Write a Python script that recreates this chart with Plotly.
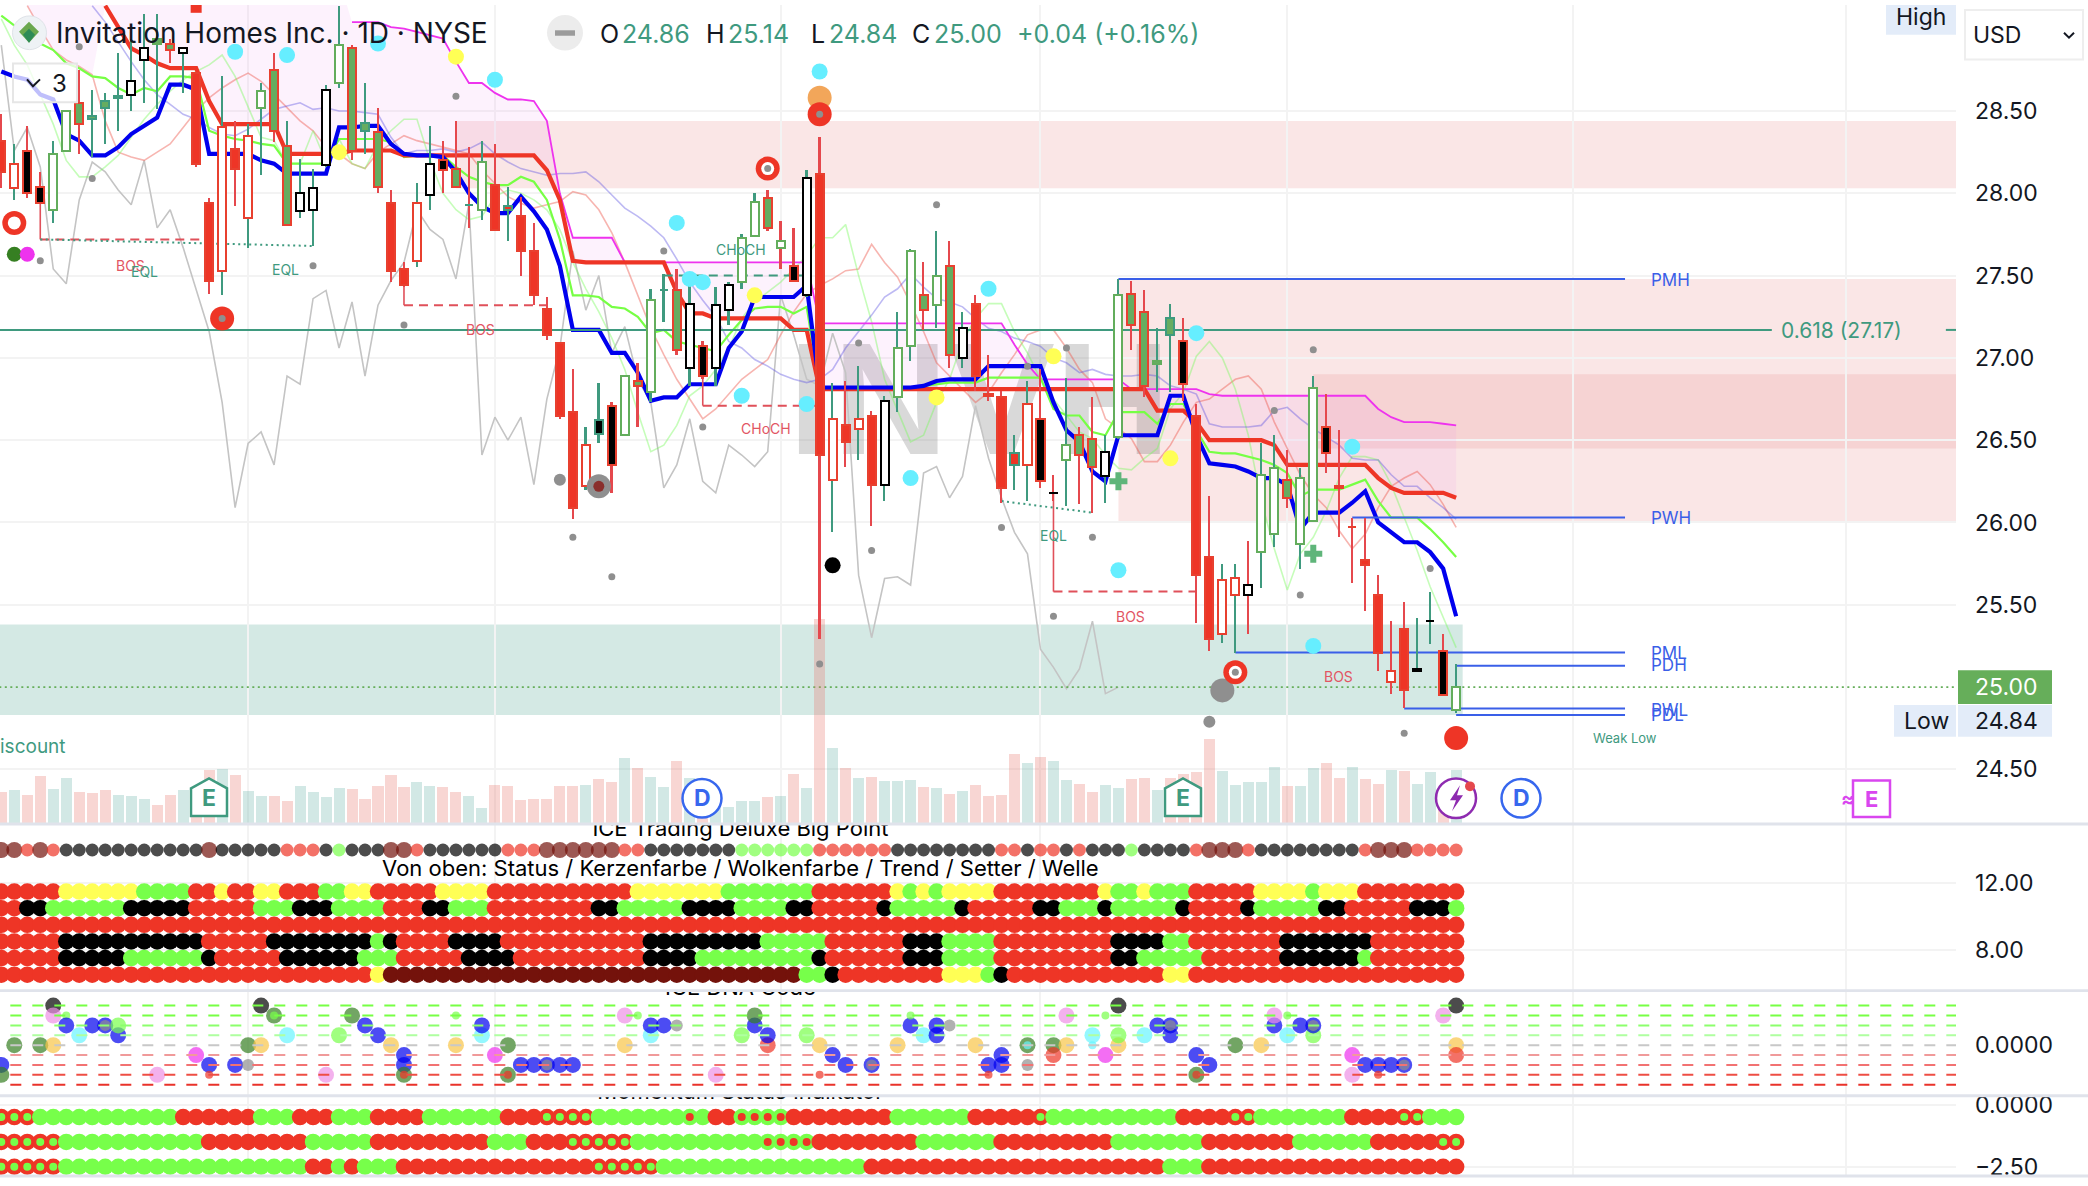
import plotly.graph_objects as go

W, H = 2088, 1186
PLOT_R = 1956
FONT = "Inter"
INK = "#131722"
TEAL = "#3f9a7f"
REDC = "#ee3526"
BLUE_L = "#3a5fe8"

# ---------- candles ----------
highs = [28.48,28.30,28.41,28.13,28.32,28.50,28.75,28.63,28.61,28.85,
 28.94,29.09,29.09,28.94,28.88,28.73,27.97,28.71,28.44,28.42,
 28.67,28.85,28.44,28.21,28.15,28.66,29.14,28.90,28.67,28.52,
 28.02,27.58,28.06,28.41,28.32,28.44,28.28,28.32,28.30,28.04,
 27.98,27.82,27.37,27.09,26.93,26.58,26.85,26.73,26.89,26.97,
 27.42,27.51,27.54,27.48,27.10,27.43,27.46,27.75,28.00,28.02,
 27.83,27.79,28.14,28.34,26.85,26.86,26.95,26.68,26.77,27.28,
 27.66,27.58,27.77,27.71,27.28,27.38,27.02,26.80,26.53,26.86,
 26.93,26.29,26.88,26.58,26.76,26.53,27.48,27.47,27.41,27.18,
 27.33,27.24,26.72,26.16,25.75,25.75,25.89,26.48,26.53,26.44,
 26.33,26.89,26.78,26.56,26.03,26.03,25.68,25.40,25.52,25.42,
 25.58,25.32,25.14]
body_tops = [28.32,28.18,28.26,28.04,28.24,28.50,28.55,28.47,28.56,28.59,
 28.68,28.88,28.94,28.91,28.88,28.73,27.94,28.40,28.27,28.35,
 28.62,28.75,28.29,28.00,28.03,28.63,28.90,28.88,28.43,28.37,
 27.94,27.54,27.94,28.18,28.20,28.15,27.93,28.19,28.05,27.92,
 27.86,27.65,27.30,27.09,26.67,26.47,26.62,26.71,26.89,26.86,
 27.35,27.41,27.41,27.33,27.07,27.32,27.44,27.73,27.95,27.97,
 27.71,27.56,28.09,28.12,26.63,26.59,26.63,26.65,26.74,27.06,
 27.65,27.38,27.50,27.56,27.18,27.33,26.78,26.76,26.42,26.72,
 26.63,26.18,26.47,26.53,26.51,26.43,27.38,27.39,27.28,26.98,
 27.24,27.10,26.65,25.79,25.65,25.66,25.62,26.29,26.33,26.26,
 26.27,26.82,26.58,26.22,25.97,25.77,25.56,25.10,25.35,25.11,
 25.40,25.22,25.00]
body_bots = [28.13,28.03,28.00,27.94,27.90,28.26,28.42,28.45,28.52,28.58,
 28.60,28.81,28.91,28.87,28.85,28.18,27.47,27.53,28.15,27.85,
 28.52,28.38,27.81,27.89,27.90,28.17,28.67,28.26,28.38,28.04,
 27.53,27.44,27.59,27.99,28.14,28.04,27.93,27.90,27.78,27.90,
 27.65,27.38,27.14,26.65,26.09,26.22,26.54,26.35,26.53,26.83,
 26.79,27.41,27.05,26.94,26.89,26.94,27.29,27.46,27.74,27.79,
 27.67,27.47,27.38,26.41,26.26,26.49,26.57,26.23,26.23,26.76,
 27.07,27.29,27.32,27.02,27.00,26.89,26.77,26.21,26.35,26.35,
 26.25,26.18,26.38,26.41,26.34,26.28,26.52,27.20,26.83,26.96,
 27.14,26.84,25.68,25.29,25.32,25.56,25.56,25.82,25.93,26.15,
 25.87,26.01,26.42,26.21,25.97,25.74,25.21,25.03,24.98,25.10,
 25.40,24.95,24.86]
lows = [28.03,27.96,27.97,27.94,27.82,28.26,28.24,28.22,28.30,28.38,
 28.50,28.55,28.51,28.79,28.61,28.16,27.39,27.38,27.92,27.67,
 28.11,28.31,27.81,27.85,27.68,28.16,28.64,28.20,28.24,28.00,
 27.46,27.43,27.55,27.90,28.00,28.04,27.79,27.84,27.78,27.71,
 27.50,27.32,27.11,26.63,26.02,26.20,26.48,26.18,26.53,26.58,
 26.73,27.22,27.02,26.83,26.87,26.83,27.20,27.42,27.74,27.77,
 27.54,27.47,27.37,25.29,25.94,26.34,26.38,25.98,26.13,26.67,
 26.98,27.17,27.18,26.94,26.94,26.80,26.74,26.12,26.20,26.13,
 26.21,26.13,26.10,26.11,26.06,26.12,26.51,27.05,26.76,26.79,
 26.79,26.74,25.39,25.22,25.27,25.21,25.32,25.60,25.85,26.09,
 25.72,26.01,26.30,25.91,25.63,25.46,25.10,24.96,24.87,25.10,
 25.26,24.95,24.84]
body_kind = ("RWKKWWGGGG" "WWGGWRRWRW" "WGGWWWWGGG" "RRWWKGGWRR" "RRRRRWKKWG"
             "WGGWKWWWWG" "WKWRWRWRWW" "WGWGWRRRRW" "KKWGGWWGGG" "GKRRWWWWWG"
             "WWKRRRRWRK" "KKW")
edge_kind = ("rrrrggrttt" "kkgrkrrrrr" "grrkkkgrtr" "rrrkrrtgrt" "rrrrrrtrgr"
             "gtrkrkkggr" "grkrrrrrkg" "grgrkrrrtr" "rkgrrkgrrg" "trrrrrkggr"
             "ggrrrrrrrk" "krg")
wick_kind = ("rtrrttrttt" "tttrtrrtrt" "trtttttrtr" "rrttrrrtrt" "rrrrrttrtr"
             "ttrtrttttr" "rrtrtrtrtt" "trtrtrrrtt" "rrtrrttrrt" "trrrttrttr"
             "ttrrrrrrrt" "trt")
volumes = [32,34,29,48,35,46,32,31,34,29, 28,25,19,29,34,36,54,56,49,33,
 28,28,23,38,32,27,36,35,25,38, 49,37,42,38,37,32,28,16,39,38,
 24,25,25,38,38,39,45,42,67,57, 47,37,64,46,33,20,17,23,23,27,
 28,50,36,207,77,57,46,47,43,43, 44,37,36,30,33,39,28,29,71,62,
 68,64,44,40,32,39,36,45,46,34, 46,50,52,86,53,39,42,42,58,38,
 38,57,62,46,58,45,40,55,53,40, 52,26,55]
volume_kind = ("RTRRTTRRRT" "TTRRTRRTRT" "TRRTTTTRRR" "RRTTRRTTRR" "RRRRRTRRTR"
               "TTRTRTTTTR" "TRTRTRTRTT" "TRTRTRRRRT" "RTTRRTTRRT" "RRRRTTTTTR"
               "TTRRTRRTRT" "TRT")

# ---------- indicator lines ----------
blue_line = [28.74,28.71,28.69,28.60,28.57,28.36,28.32,28.23,28.23,28.28,
 28.36,28.41,28.46,28.66,28.66,28.63,28.24,28.24,28.24,28.24,
 28.20,28.18,28.12,28.12,28.12,28.12,28.40,28.40,28.41,28.41,
 28.30,28.24,28.23,28.23,28.22,28.13,28.00,27.92,27.88,27.88,
 27.98,27.89,27.78,27.56,27.17,27.17,27.17,27.03,27.03,26.91,
 26.74,26.76,26.76,26.84,26.84,26.84,27.06,27.16,27.37,27.37,
 27.37,27.37,27.44,26.82,26.82,26.82,26.82,26.82,26.82,26.82,
 26.82,26.83,26.86,26.87,26.87,26.87,26.95,26.95,26.95,26.95,
 26.95,26.73,26.56,26.49,26.31,26.25,26.53,26.53,26.53,26.53,
 26.77,26.77,26.53,26.36,26.35,26.34,26.31,26.27,26.27,26.23,
 25.96,26.06,26.06,26.06,26.12,26.19,26.00,25.94,25.88,25.88,
 25.82,25.72,25.43]
red_line = [None,None,None,None,None,None,None,None,29.14,29.01,
 28.88,28.84,28.79,28.76,28.76,28.76,28.56,28.42,28.42,28.42,
 28.42,28.42,28.24,28.24,28.24,28.24,28.24,28.26,28.26,28.26,
 28.26,28.23,28.23,28.23,28.23,28.23,28.23,28.23,28.23,28.23,
 28.23,28.23,28.14,27.96,27.59,27.58,27.58,27.58,27.58,27.58,
 27.58,27.58,27.40,27.27,27.27,27.24,27.24,27.24,27.24,27.24,
 27.24,27.17,27.17,26.81,26.81,26.81,26.81,26.81,26.81,26.81,
 26.81,26.81,26.81,26.81,26.81,26.81,26.81,26.81,26.81,26.81,
 26.81,26.81,26.81,26.81,26.81,26.81,26.81,26.81,26.81,26.68,
 26.68,26.68,26.61,26.50,26.50,26.50,26.50,26.50,26.47,26.35,
 26.35,26.35,26.35,26.35,26.35,26.35,26.27,26.21,26.18,26.18,
 26.18,26.18,26.15]
green_line = [29.08,29.02,28.96,28.91,28.87,28.79,28.76,28.71,28.70,28.64,
 28.60,28.64,28.62,28.71,28.71,28.70,28.38,28.35,28.33,28.32,
 28.30,28.29,28.18,28.18,28.18,28.18,28.33,28.33,28.33,28.33,
 28.31,28.22,28.23,28.23,28.23,28.16,28.10,28.07,28.05,28.05,
 28.10,28.07,27.96,27.72,27.38,27.38,27.37,27.31,27.30,27.25,
 27.15,27.17,27.10,27.08,27.06,27.04,27.14,27.23,27.30,27.31,
 27.31,27.27,27.31,26.82,26.82,26.82,26.82,26.82,26.82,26.82,
 26.82,26.83,26.84,26.85,26.85,26.85,26.88,26.88,26.88,26.88,
 26.88,26.69,26.65,26.65,26.55,26.53,26.67,26.67,26.67,26.60,
 26.72,26.72,26.56,26.43,26.42,26.42,26.40,26.38,26.35,26.30,
 26.16,26.20,26.20,26.20,26.23,26.26,26.13,26.03,26.03,26.03,
 25.96,25.88,25.79]
magenta_line = [None,None,None,None,None,None,None,None,None,None,
 None,None,None,None,None,None,None,None,None,None,
 None,None,None,None,None,None,None,29.04,29.04,29.04,
 29.01,29.00,28.98,28.96,28.94,28.80,28.67,28.67,28.61,28.57,
 28.57,28.56,28.44,28.00,27.73,27.73,27.73,27.73,27.58,27.58,
 27.58,27.58,27.58,27.58,27.58,27.58,27.58,27.58,27.58,27.58,
 27.58,27.58,27.58,27.21,27.21,27.21,27.21,27.21,27.21,27.21,
 27.21,27.21,27.21,27.21,27.21,27.21,27.21,27.21,27.08,26.96,
 26.87,26.87,26.87,26.87,26.87,26.87,26.87,26.81,26.81,26.81,
 26.81,26.81,26.81,26.78,26.77,26.77,26.77,26.77,26.77,26.77,
 26.77,26.77,26.77,26.77,26.77,26.77,26.69,26.64,26.61,26.61,
 26.61,26.60,26.59]
lightgreen_line = [29.06,28.90,28.78,28.60,28.42,28.20,28.10,28.10,28.16,28.23,
 28.34,28.45,28.54,28.62,28.69,28.74,28.78,28.84,28.71,28.52,
 28.34,28.32,28.18,28.18,28.38,28.19,28.33,28.18,28.15,28.30,
 28.38,28.45,28.45,28.20,28.00,27.90,27.84,27.86,27.98,28.02,
 28.00,27.96,27.90,27.78,27.58,27.42,27.28,27.12,26.93,26.67,
 26.43,26.47,26.59,26.77,26.83,26.93,27.06,27.24,27.34,27.40,
 27.46,27.54,27.62,27.73,27.73,27.81,27.50,27.22,26.87,26.68,
 26.49,26.53,26.73,26.87,27.10,27.24,27.33,27.33,27.16,27.03,
 26.87,26.75,26.65,26.55,26.51,26.41,26.33,26.32,26.39,26.45,
 26.69,26.79,27.01,27.10,27.00,26.81,26.53,26.13,25.84,25.59,
 25.81,25.91,26.07,26.27,26.40,26.40,26.38,26.23,26.03,25.83,
 25.61,25.43,25.24]
salmon_line = [None,None,29.14,29.00,28.87,28.81,28.77,28.72,28.44,28.25,
 28.22,28.20,28.25,28.30,28.40,28.50,28.58,28.64,28.69,28.73,
 28.68,28.60,28.52,28.44,28.38,28.28,28.24,28.18,28.15,28.25,
 28.30,28.35,28.32,28.30,28.28,28.26,28.24,28.14,28.06,27.98,
 27.94,27.91,27.93,27.95,28.01,27.99,27.90,27.76,27.58,27.38,
 27.18,27.02,26.87,26.75,26.63,26.69,26.78,26.87,26.93,26.99,
 27.14,27.28,27.39,27.44,27.48,27.53,27.54,27.69,27.58,27.49,
 27.33,27.16,26.97,26.89,26.81,26.73,26.79,26.91,27.02,27.14,
 27.17,27.17,27.06,26.93,26.85,26.63,26.57,26.51,26.37,26.37,
 26.47,26.61,26.73,26.75,26.81,26.87,26.89,26.81,26.61,26.45,
 26.29,26.17,26.09,25.95,25.84,25.93,26.09,26.22,26.27,26.31,
 26.23,26.11,25.97]
lavender_line = [None,None,None,None,None,None,None,29.14,29.04,28.92,
 28.80,28.69,28.60,28.54,28.48,28.45,28.40,28.36,28.35,28.39,
 28.45,28.51,28.53,28.55,28.51,28.52,28.50,28.50,28.49,28.48,
 28.34,28.24,28.26,28.26,28.27,28.25,28.27,28.31,28.24,28.19,
 28.15,28.13,28.11,28.12,28.12,28.13,28.07,27.99,27.91,27.86,
 27.80,27.73,27.60,27.46,27.35,27.25,27.10,27.06,26.99,26.95,
 26.90,26.87,26.85,26.87,26.93,27.06,27.16,27.26,27.37,27.42,
 27.51,27.43,27.36,27.34,27.31,27.24,27.18,27.16,27.12,27.10,
 27.07,27.00,26.97,26.91,26.93,26.90,26.89,26.89,26.90,26.89,
 26.83,26.81,26.78,26.60,26.58,26.58,26.58,26.59,26.68,26.70,
 26.63,26.57,26.52,26.47,26.39,26.38,26.38,26.29,26.22,26.22,
 26.15,26.09,26.02]
gray_line = [28.90,28.26,28.40,28.16,27.54,27.45,27.96,28.19,28.13,28.02,
 27.93,28.20,27.79,27.90,27.67,27.42,27.16,26.73,26.09,26.48,
 26.55,26.35,26.89,26.84,27.36,27.41,27.06,27.34,26.89,27.32,
 27.47,27.58,27.90,27.78,27.72,27.48,27.94,26.41,26.64,26.50,
 26.64,26.23,26.75,27.06,27.65,27.29,27.50,27.03,27.19,26.87,
 26.73,26.21,26.35,26.63,26.25,26.18,26.47,26.41,26.34,26.43,
 27.38,27.14,26.87,26.83,27.15,26.91,25.68,25.30,25.66,25.67,
 25.62,26.30,26.34,26.15,26.28,26.71,26.39,26.15,25.94,25.81,
 25.23,25.12,24.99,25.11,25.40,24.96,25.00]

# ---------- levels and structure ----------
fib_price = 27.17
last_price = 25.00
low_price = 24.84
level_names = ["PMH", "PWH", "PML", "PDH", "PWL", "PDL"]
level_prices = [27.48, 26.03, 25.21, 25.13, 24.87, 24.83]
level_starts = [86, 104, 95, 112, 108, 112]
level_end = 125
zone_x0 = [35, 86, 101]
zone_top = [28.44, 27.48, 26.90]
zone_bot = [28.03, 26.00, 26.45]
discount_top, discount_bot = 25.38, 24.83

bos_idx = [3,16,None,31,42,None,54,63,None,81,92]
bos_val = [27.72,27.72,None,27.32,27.32,None,26.71,26.71,None,25.58,25.58]
bos_stem_idx = [3,3,None,31,31,None,54,54,None,81,81]
bos_stem_val = [27.94,27.72,None,27.44,27.32,None,26.89,26.71,None,26.18,25.58]
choch_idx = [51, 62]
choch_val = [27.50, 27.50]
eql_idx = [3,24,None,77,84]
eql_val = [27.72,27.68,None,26.13,26.06]

# ---------- chart marks on the price pane ----------
small_gray_idx = [6,7,3,24,35,51,31,44,47,72,66,82,98,101,79,54,67,77,84,81,63,100,110,108]
small_gray_val = [28.89,28.09,27.59,27.56,28.59,27.65,27.20,25.91,25.67,27.93,27.09,27.06,26.68,27.05,26.95,26.58,25.83,25.97,25.91,25.43,25.14,25.56,25.72,24.72]
mid_gray_idx = [43, 93]
mid_gray_val = [26.26, 24.79]
big_gray_idx = [94, 46]
big_gray_val = [24.98, 26.22]
cyan_idx = [18,22,29,38,52,53,54,57,62,76,92,70,86,104,101,63]
cyan_val = [28.86,28.84,28.91,28.69,27.82,27.48,27.46,26.77,26.72,27.42,27.15,26.27,25.71,26.46,25.25,28.74]
yellow_idx = [35,26,58,72,81,90]
yellow_val = [28.83,28.25,27.38,26.76,27.01,26.39]
ring_idx = [1,59,95]
ring_val = [27.82,28.15,25.09]
solid_idx = [17,63,112]
solid_val = [27.24,28.48,24.69]

# ---------- sub panes ----------
bigpoint_row = "D2 R1 D1 R1 K11 D1 K5 R3 K1 G1 K3 D2 R1 K6 R3 D6 R2 K7 G6 R6 K8 R2 K1 R2 K1 R1 K3 G1 K4 R1 D3 R1 K8 R1 D3 R4"
status_row   = "R5 Y6 G4 R2 Y1 R2 Y2 R3 G2 Y2 R5 Y4 R11 Y7 G7 R6 Y1 G1 Y1 G1 Y4 R8 Y1 G2 Y1 G3 R5 Y4 G1 Y3 R8"
candle_row   = "R2 K2 G6 K5 R5 G3 K3 G4 R3 K2 G3 R8 K2 G5 K4 G4 K2 R5 K1 G5 K1 R5 K2 G3 K1 G5 K1 R4 K1 G5 K2 R5 K3 G1"
cloud_row    = "R113"
trend_row    = "R5 K11 R5 K8 G1 K1 R4 K4 R11 K9 G5 R6 K3 G4 R9 K4 G2 R7 K7 R7"
setter_row   = "R5 K5 G6 K1 R5 K6 G3 R5 K4 R10 K4 G9 K1 R6 K3 G4 R9 K2 G5 R6 K6 G1 R7"
wave_row     = "R29 Y1 D32 G2 K1 R8 Y3 G1 K1 R12 Y2 R21"
ice_rows = [status_row, candle_row, cloud_row, trend_row, setter_row, wave_row]
ice_levels = [11.5, 10.5, 9.5, 8.5, 7.5, 6.5]
bigpoint_level = 14

mom_rows = ["a3 G11 R6 G3 R3 G3 R4 G6 R3 a4 G7 b1 G1 R2 b4 R8 G6 R5 a1 G10 R4 a2 G7 R4 a2 G3",
            "a5 G11 R8 G5 R9 G3 R3 a5 G10 b4 R8 G6 R9 G7 R7 G6 R5 a2",
            "a5 G19 R2 G1 R1 G3 R15 a5 G16 R23 G3 R20"]
mom_levels = [-0.5, -1.5, -2.5]

dna_levels = [4, 3, 2, 1, 0, -1, -2, -3, -4]
dna_idx = [0,0,1,3,4,4,4,5,5,6,7,8,9,9,12,15,16,16,18,19,19,20,20,21,22,25,26,27,28,29,30,31,31,31,35,35,37,37,38,39,39,
 40,41,42,43,44,48,48,49,50,50,51,52,55,57,58,58,59,59,62,63,63,64,65,67,69,70,70,71,72,72,73,75,76,76,77,77,79,79,81,81,82,82,
 84,84,85,85,86,86,86,88,89,90,90,92,92,93,95,97,98,98,99,99,100,101,101,104,104,105,106,106,107,108,111,112,112,112]
dna_level = [-2,-3,0,0,4,3,0,3,2,1,2,2,1,2,-3,-1,-2,-3,-2,0,-2,4,0,3,1,-3,1,3,2,1,0,-1,-2,-3,0,3,1,2,-1,0,-3,
 -2,-2,-2,-2,-2,3,0,3,1,2,2,2,-3,1,2,3,0,1,1,0,-3,-1,-2,-2,0,2,3,1,2,1,2,0,-2,-3,-1,-2,0,-2,0,-1,3,0,
 1,0,3,-1,4,0,1,1,2,1,2,-1,-3,-2,0,0,2,3,3,1,2,1,2,-1,-3,-2,-2,-3,-2,-2,3,4,0,-1]
dna_kind = list("BDDDKPOSBCBABLPMBsBDgKOFCPLDBBOBBTOSCBMDT"
 "BBABBPOSCBBgPLBDRBLOsBBAOBSCBBgOBsBBUgDRPO"
 "CcSMKOLCBBA" "BTBDOBPSCBLAMPBBsBAPKOR")

COL = {"R": REDC, "G": "#77ff4a", "Y": "#ffff55", "K": "#000000", "D": "#74120b",
       "a": REDC, "b": "#77ff4a"}
BODY = {"R": REDC, "G": "#66ac60", "K": "#000000", "W": "#ffffff"}
EDGE = {"r": "#e8402f", "g": "#63ad5c", "k": "#000000", "t": TEAL}
WICK = {"r": "#e5484d", "t": TEAL}
DNA_COL = {"B": "#0000ee", "D": "#367f22", "K": "#000000", "P": "#ee90e6", "O": "#f8c547", "S": "#77ff4a",
           "C": "#66f5ff", "A": "#0000ee", "L": "#77ff4a", "M": "#ee30ee", "s": REDC, "g": "#8f8f8f",
           "F": "#367f22", "T": "#367f22", "U": "#367f22", "R": REDC, "c": "#66f5ff"}
DNA_INNER = {"A": "#8f8f8f", "F": "#77ff4a", "T": REDC, "U": "#66f5ff"}
DNA_SIZE = {"S": 8, "s": 8, "g": 12, "c": 8}


def expand(row):
    out = ""
    for tok in row.split():
        out += tok[0] * int(tok[1:])
    assert len(out) == 113, (row, len(out))
    return out


idx = list(range(113))
for a in (highs, body_tops, body_bots, lows, body_kind, edge_kind, wick_kind, volumes, volume_kind,
          blue_line, red_line, green_line, magenta_line, lightgreen_line, salmon_line, lavender_line):
    assert len(a) == 113, len(a)
assert len(dna_idx) == len(dna_level) == len(dna_kind), (len(dna_idx), len(dna_level), len(dna_kind))

fig = go.Figure()


def line(x, y, color, width, yaxis="y", dash=None, **kw):
    fig.add_trace(go.Scatter(x=x, y=y, mode="lines", yaxis=yaxis, hoverinfo="skip",
                             line=dict(color=color, width=width, dash=dash), connectgaps=False, **kw))


def dots(x, y, color, size, yaxis="y7", symbol="circle"):
    fig.add_trace(go.Scatter(x=x, y=y, mode="markers", yaxis=yaxis, hoverinfo="skip", cliponaxis=True,
                             marker=dict(color=color, size=size, symbol=symbol, line=dict(width=0))))


# watermark under everything
fig.add_trace(go.Scatter(x=[75.3], y=[26.66], mode="text", text=["INVH"], hoverinfo="skip",
                         textfont=dict(family="Liberation Sans", size=160, color="rgba(110,110,110,0.26)", weight="bold")))

# cloud
cloud_top = [m if m is not None else 29.3 for m in magenta_line]
cloud_low = [r if r is not None else (s if s is not None else 29.3) for r, s in zip(red_line, salmon_line)]
line(idx, cloud_top, "rgba(0,0,0,0)", 0)
line(idx, cloud_low, "rgba(0,0,0,0)", 0, fill="tonexty", fillcolor="rgba(238,110,238,0.09)")

line(list(range(len(gray_line))), gray_line, "#c4c4c4", 1.6)
line(idx, salmon_line, "rgba(238,90,80,0.45)", 1.6)
line(idx, lightgreen_line, "rgba(120,250,90,0.42)", 1.6)
line(idx, lavender_line, "rgba(90,80,225,0.40)", 1.6)
line(idx, magenta_line, "#ee33ee", 1.8)
line(idx, green_line, "#77ff44", 2.2)
line(idx, red_line, REDC, 4.2)
line(idx, blue_line, "#0000ee", 4.2)

line([-1, 136.3], [fib_price, fib_price], TEAL, 2)
line([149.7, 151], [fib_price, fib_price], TEAL, 2)
line([-1, 151], [last_price, last_price], "#66ae5a", 1.6, dash="2px,3.5px")
for p, s in zip(level_prices, level_starts):
    line([s, level_end], [p, p], BLUE_L, 2)
line(bos_idx, bos_val, "#e0505a", 2, dash="9px,6px")
line(bos_stem_idx, bos_stem_val, "#e0505a", 1.6)
line(choch_idx, choch_val, TEAL, 2, dash="9px,6px")
line(eql_idx, eql_val, TEAL, 2, dash="2px,3.5px")

# volume
fig.add_trace(go.Bar(x=idx, y=volumes, width=0.85, yaxis="y5", hoverinfo="skip",
                     marker=dict(color=["rgba(232,120,110,0.30)" if k == "R" else "rgba(90,170,160,0.27)" for k in volume_kind],
                                 line=dict(width=0))))

# candles
fig.add_trace(go.Bar(x=idx, base=lows, y=[h - l for h, l in zip(highs, lows)], width=0.13, yaxis="y6", hoverinfo="skip",
                     marker=dict(color=[WICK[k] for k in wick_kind], line=dict(width=0))))
fig.add_trace(go.Bar(x=idx, base=body_bots, y=[t - b for t, b in zip(body_tops, body_bots)], width=0.62, yaxis="y6", hoverinfo="skip",
                     marker=dict(color=[BODY[k] for k in body_kind], line=dict(color=[EDGE[k] for k in edge_kind], width=2))))

# marks
dots(small_gray_idx, small_gray_val, "#8f8f8f", 7)
dots(mid_gray_idx, mid_gray_val, "#8f8f8f", 12)
dots(big_gray_idx, big_gray_val, "#8f8f8f", 24)
dots([46], [26.22], "#8a2f2c", 11)
dots(cyan_idx, cyan_val, "#66eeff", 16)
dots(yellow_idx, yellow_val, "#ffff55", 16)
dots([63], [28.58], "#f2a65a", 24)
dots(ring_idx, ring_val, REDC, 24)
dots(ring_idx, ring_val, "#ffffff", 13)
dots(solid_idx, solid_val, REDC, 24)
dots([59, 95, 17, 63], [28.15, 25.09, 27.24, 28.48], "#8f8f8f", 7)
dots([64], [25.74], "#000000", 16)
dots([1], [27.63], "#367f22", 15)
dots([2], [27.63], "#ee33ee", 15)
dots([86, 101], [26.25, 25.81], "#5fb57a", 15, symbol="cross")
dots([15], [29.13], REDC, 11, symbol="square")

# ICE pane
bp = expand(bigpoint_row)
dots(idx, [bigpoint_level] * 113, [COL[c] for c in bp], [16 if c == "D" else 13 for c in bp], yaxis="y2")
for row, lvl in zip(ice_rows, ice_levels):
    r = expand(row)
    dots(idx, [lvl] * 113, [COL[c] for c in r], 16.5, yaxis="y2")
fig.add_trace(go.Scatter(x=[56.9, 56.9], y=[15.2, 12.76], mode="text", yaxis="y2", hoverinfo="skip",
                         text=["ICE Trading Deluxe Big Point", "Von oben: Status / Kerzenfarbe / Wolkenfarbe / Trend / Setter / Welle"],
                         textfont=dict(family=FONT, size=22, color="#000000")))

# DNA pane
dots(dna_idx, dna_level, [DNA_COL[k] for k in dna_kind], [DNA_SIZE.get(k, 16) for k in dna_kind], yaxis="y3")
inner = [(i, l, k) for i, l, k in zip(dna_idx, dna_level, dna_kind) if k in DNA_INNER]
dots([a[0] for a in inner], [a[1] for a in inner], [DNA_INNER[a[2]] for a in inner],
     [11 if a[2] == "A" else 8 for a in inner], yaxis="y3")
DASH_COL = ["#77ff44", "#77ff44", "#8cff6c", "#afffa0", "#c8c8c8", "#f09a9a", "#f27272", "#ee4e44", "#e9322a"]
for lvl, c in zip(dna_levels, DASH_COL):
    line([-1, 151], [lvl, lvl], c, 2, yaxis="y3", dash="11px,11px")
fig.add_trace(go.Scatter(x=[56.9], y=[5.6], mode="text", yaxis="y3", hoverinfo="skip", text=["ICE DNA Code"],
                         textfont=dict(family=FONT, size=22, color="#000000")))

# Momentum pane
for row, lvl in zip(mom_rows, mom_levels):
    r = expand(row)
    dots(idx, [lvl] * 113, [COL[c] for c in r], 16.5, yaxis="y4")
    inn = [(i, c) for i, c in zip(idx, r) if c in "ab"]
    dots([a[0] for a in inn], [lvl] * len(inn), ["#77ff4a" if a[1] == "a" else REDC for a in inn], 8, yaxis="y4")
fig.add_trace(go.Scatter(x=[56.9], y=[0.44], mode="text", yaxis="y4", hoverinfo="skip", text=["Momentum Status Indikator"],
                         textfont=dict(family=FONT, size=22, color="#000000")))


def X(x):
    return x / W


def Y(y):
    return 1 - y / H


shapes = []
for x0, t, b in zip(zone_x0, zone_top, zone_bot):
    shapes.append(dict(type="rect", xref="x", yref="y", x0=x0, x1=151, y0=b, y1=t, layer="below",
                       fillcolor="rgba(232,150,150,0.235)", line=dict(width=0)))
shapes.append(dict(type="rect", xref="x", yref="y", x0=-1, x1=112.5, y0=discount_bot, y1=discount_top, layer="below",
                   fillcolor="rgba(70,160,140,0.23)", line=dict(width=0)))


def rect(x0, y0, x1, y1, fill="rgba(0,0,0,0)", lc=None, lw=0):
    shapes.append(dict(type="rect", xref="paper", yref="paper", x0=X(x0), x1=X(x1), y0=Y(y1), y1=Y(y0),
                       fillcolor=fill, line=dict(color=lc or "rgba(0,0,0,0)", width=lw), layer="above"))


def circle(cx, cy, r, fill="rgba(0,0,0,0)", lc=None, lw=0):
    shapes.append(dict(type="circle", xref="paper", yref="paper", x0=X(cx - r), x1=X(cx + r), y0=Y(cy + r), y1=Y(cy - r),
                       fillcolor=fill, line=dict(color=lc or "rgba(0,0,0,0)", width=lw), layer="above"))


def poly(pts, fill="rgba(0,0,0,0)", lc=None, lw=0, close=True):
    path = "M " + " L ".join(f"{X(a):.5f} {Y(b):.5f}" for a, b in pts) + (" Z" if close else "")
    shapes.append(dict(type="path", xref="paper", yref="paper", path=path, fillcolor=fill,
                       line=dict(color=lc or "rgba(0,0,0,0)", width=lw), layer="above"))


for yy in (826, 994, 1100, 1181):
    rect(0, yy - 1.5, W, yy + 1.5, fill="#e0e3eb")

# header widgets
circle(29.5, 28, 17, fill="#eef2f5", lc="#dfe3e8", lw=1)
poly([(29, 17), (39, 27), (29, 38), (19, 27)], fill="#6aa84f")
poly([(29, 24), (35, 30), (29, 38), (23, 30)], fill="#2e8b57")
circle(565, 28, 18, fill="#ececec")
rect(555, 25.5, 575, 31, fill="#9b9b9b")
rect(13, 59, 77, 98, fill="rgba(255,255,255,0.75)", lc="#e6e6e6", lw=2)
poly([(27, 75), (33, 82), (40, 75)], lc=INK, lw=2, close=False)

# right-hand tags
rect(1886, 0, 1956, 30, fill="#e3ecf9")
rect(1965, 5, 2083, 55, fill="#ffffff", lc="#eeeeee", lw=2)
poly([(2064, 28), (2069, 33), (2074, 28)], lc=INK, lw=2, close=False)
rect(1958, 671, 2052, 705, fill="#66ae5a")
rect(1894, 706, 1956, 738, fill="#e3ecf9")
rect(1958, 706, 2052, 738, fill="#e3ecf9")

# badges
poly([(191, 790), (209, 780), (227, 790), (227, 818), (191, 818)], fill="#ffffff", lc=TEAL, lw=2.5)
poly([(1165, 790), (1183, 780), (1201, 790), (1201, 818), (1165, 818)], fill="#ffffff", lc=TEAL, lw=2.5)
circle(702, 800, 19.5, fill="#ffffff", lc="#3767ee", lw=2.5)
circle(1521, 800, 19.5, fill="#ffffff", lc="#3767ee", lw=2.5)
circle(1456, 800, 20, fill="#ffffff", lc="#8e2bb0", lw=2.5)
poly([(1460, 787), (1450, 802), (1456, 802), (1452, 813), (1463, 797), (1457, 797)], fill="#8e2bb0")
circle(1470, 788, 5, fill="#e5484d")
rect(1853, 782, 1890, 819, fill="#ffffff", lc="#d946ef", lw=2.5)

anns = []


def ann(text, x, y, size, color=INK, anchor="left", family=FONT, weight=None):
    anns.append(dict(text=text, x=X(x), y=Y(y), xref="paper", yref="paper", showarrow=False, xanchor=anchor, yanchor="middle",
                     xshift=0, align="left", borderpad=0, borderwidth=0,
                     font=dict(family=family, size=size, color=color, weight=weight)))


ann("Invitation Homes Inc. · 1D · NYSE", 56, 28, 28)
ann("O", 600, 29, 25)
ann("24.86", 622, 29, 25, TEAL)
ann("H", 706, 29, 25)
ann("25.14", 728, 29, 25, TEAL)
ann("L", 811, 29, 25)
ann("24.84", 829, 29, 25, TEAL)
ann("C", 912, 29, 25)
ann("25.00", 934, 29, 25, TEAL)
ann("+0.04 (+0.16%)", 1017, 29, 25, TEAL)
ann("3", 52, 79, 24)
ann("High", 1896, 12, 23)
ann("USD", 1973, 30, 23)
ann("25.00", 1975, 688, 23, "#ffffff")
ann("Low", 1904, 722, 23)
ann("24.84", 1975, 722, 23)
ann("0.618 (27.17)", 1781, 328, 21, TEAL)
ann("iscount", 66, 748, 19, TEAL, anchor="right")
ann("Weak Low", 1625, 739, 13, TEAL, anchor="center")
for name, x, y in [("PMH", 1651, 277), ("PWH", 1651, 517), ("PML", 1651, 654), ("PDH", 1651, 666), ("PWL", 1651, 711), ("PDL", 1651, 716)]:
    ann(name, x, y, 17, BLUE_L)
for text, x, y, col in [("BOS", 130, 263, "#e25563"), ("EQL", 144, 269, TEAL), ("EQL", 285, 267, TEAL), ("BOS", 480, 327, "#e25563"),
                        ("CHoCH", 741, 247, TEAL), ("CHoCH", 766, 427, "#e25563"), ("EQL", 1053, 535, TEAL),
                        ("BOS", 1130, 617, "#e25563"), ("BOS", 1338, 677, "#e25563")]:
    ann(text, x, y, 14, col, anchor="center")
ann("E", 209, 800, 23, TEAL, anchor="center", weight="bold")
ann("E", 1183, 800, 23, TEAL, anchor="center", weight="bold")
ann("D", 702, 800, 23, "#3767ee", anchor="center", weight="bold")
ann("D", 1521, 800, 23, "#3767ee", anchor="center", weight="bold")
ann("E", 1871, 801, 22, "#d946ef", anchor="center", weight="bold")
ann("≈", 1848, 801, 20, "#d946ef", anchor="center", weight="bold")

GRID = "#f3f3f3"
tick_font = dict(family=FONT, size=23, color=INK)
common_y = dict(side="right", anchor="x", showline=False, zeroline=False, ticks="", ticklabelposition="outside",
                gridcolor=GRID, gridwidth=2, tickfont=tick_font, ticklabelstandoff=18, tickmode="array", fixedrange=True)
fr = lambda y: 1 - y / H
price_ticks = [28.5, 28.0, 27.5, 27.0, 26.5, 26.0, 25.5, 24.5]

fig.update_layout(
    width=W, height=H, margin=dict(l=0, r=0, t=0, b=0), showlegend=False, autosize=False,
    paper_bgcolor="#ffffff", plot_bgcolor="#ffffff", barmode="overlay", bargap=0,
    shapes=shapes, annotations=anns,
    xaxis=dict(domain=[0, PLOT_R / W], range=[-0.1, 150.48], anchor="y4", showticklabels=False, ticks="",
               tickmode="array", tickvals=[19, 38, 60, 80, 99, 121, 142], showgrid=True, gridcolor=GRID, gridwidth=2,
               zeroline=False, showline=False, fixedrange=True),
    yaxis=dict(domain=[fr(826), 1], range=[24.168, 29.144], tickvals=price_ticks, ticktext=[f"{v:.2f}" for v in price_ticks], showgrid=True, **common_y),
    yaxis2=dict(domain=[fr(994), fr(826)], range=[5.542, 15.56], tickvals=[12, 8], ticktext=["12.00", "8.00"], showgrid=True, **common_y),
    yaxis3=dict(domain=[fr(1100), fr(994)], range=[-5.115, 5.517], tickvals=[0], ticktext=["0.0000"], showgrid=False, **common_y),
    yaxis4=dict(domain=[fr(1181), fr(1100)], range=[-2.875, 0.359], tickvals=[0, -2.5], ticktext=["0.0000", "−2.50"], showgrid=True, **common_y),
    yaxis5=dict(overlaying="y", range=[0, 826], visible=False, side="right", anchor="x", fixedrange=True),
    yaxis6=dict(overlaying="y", range=[24.168, 29.144], visible=False, side="right", anchor="x", fixedrange=True),
    yaxis7=dict(overlaying="y", range=[24.168, 29.144], visible=False, side="right", anchor="x", fixedrange=True),
)

fig.write_html("out.html", post_script="document.body.style.margin='0';document.body.style.overflow='hidden';",
               config=dict(displayModeBar=False))
